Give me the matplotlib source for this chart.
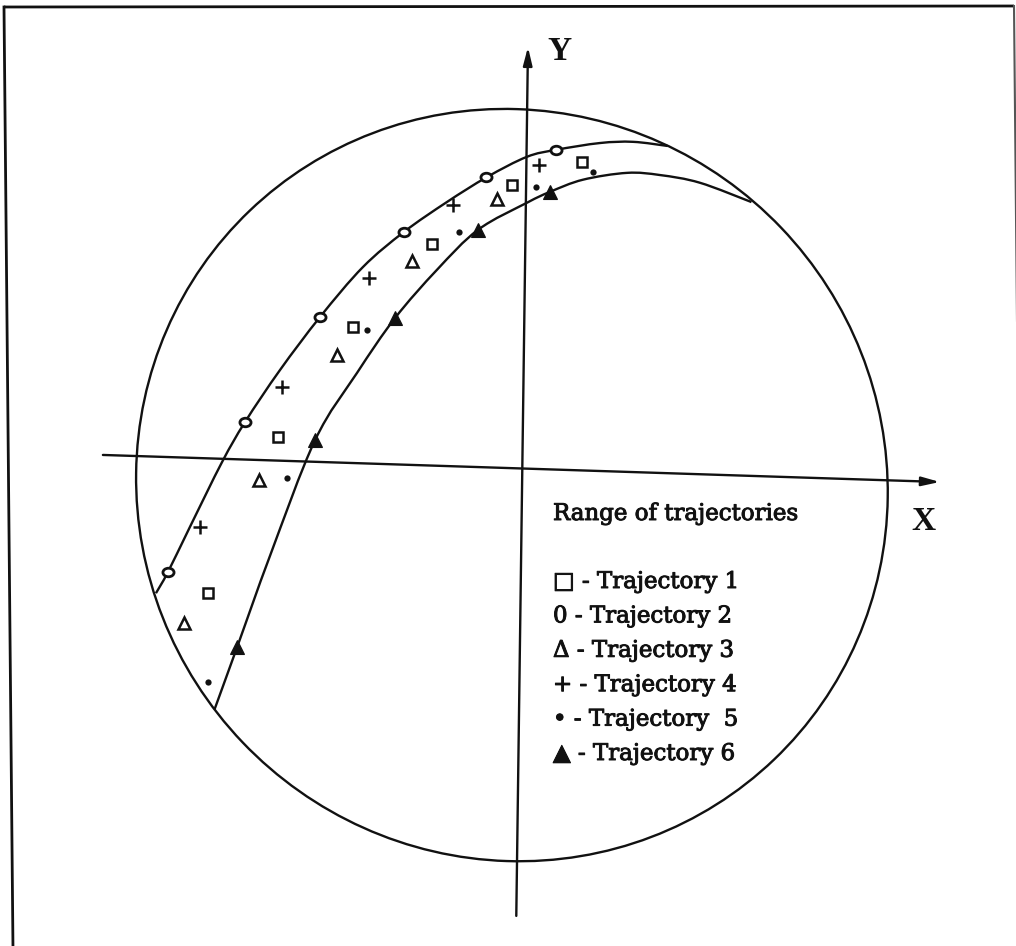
import matplotlib
matplotlib.use("Agg")
import matplotlib.pyplot as plt
import matplotlib.patheffects as pe
import numpy as np
from matplotlib.patches import Circle, FancyArrowPatch, PathPatch
from matplotlib.path import Path
from matplotlib.transforms import Affine2D

# trajectory samples, in units of the working-area radius,
# origin at the crossing of the X and Y axes
traj1_x = [-0.831, -0.651, -0.455, -0.248, -0.038, 0.148]
traj1_y = [-0.358, 0.063, 0.362, 0.589, 0.753, 0.820]
traj2_x = [-0.939, -0.739, -0.543, -0.323, -0.107, 0.078]
traj2_y = [-0.306, 0.100, 0.386, 0.619, 0.772, 0.850]
traj3_x = [-0.894, -0.700, -0.497, -0.301, -0.077]
traj3_y = [-0.440, -0.053, 0.286, 0.542, 0.715]
traj4_x = [-0.855, -0.642, -0.415, -0.194, 0.034]
traj4_y = [-0.183, 0.196, 0.493, 0.695, 0.809]
traj5_x = [-0.828, -0.625, -0.418, -0.177, 0.026, 0.177]
traj5_y = [-0.595, -0.045, 0.355, 0.624, 0.750, 0.795]
traj6_x = [-0.752, -0.552, -0.344, -0.126, 0.064]
traj6_y = [-0.499, 0.058, 0.389, 0.631, 0.738]

# upper and lower limits of the range of trajectories
upper_x = [-0.970, -0.939, -0.882, -0.799, -0.739, -0.648, -0.543, -0.431,
           -0.323, -0.210, -0.104, 0.001, 0.078, 0.195, 0.283, 0.375]
upper_y = [-0.363, -0.306, -0.184, -0.009, 0.100, 0.241, 0.386, 0.522,
           0.619, 0.702, 0.772, 0.829, 0.850, 0.872, 0.878, 0.870]
lower_x = [-0.810, -0.752, -0.668, -0.552, -0.443, -0.344, -0.234,
           -0.126, 0.003, 0.064, 0.151, 0.268, 0.356, 0.462, 0.600]
lower_y = [-0.667, -0.499, -0.254, 0.058, 0.240, 0.389, 0.521,
           0.631, 0.707, 0.738, 0.773, 0.795, 0.792, 0.775, 0.728]

# working area and axes
circle_centre = (-0.027, -0.045)
circle_radius = 1.0
x_axis = (-1.116, 1.111)
y_axis = (-1.19, 1.121)

legend_title = "Range of trajectories"
legend_lines = ["\u25a1 - Trajectory 1", "0 - Trajectory 2", "\u0394 - Trajectory 3",
                "+ - Trajectory 4", "\u2022 - Trajectory  5", "\u25b2 - Trajectory 6"]


def smooth(xs, ys):
    # cubic Bezier segments through the given points (Catmull-Rom tangents)
    p = np.column_stack([xs, ys])
    verts, codes = [p[0]], [Path.MOVETO]
    n = len(p)
    for i in range(n - 1):
        p0 = p[max(i - 1, 0)]
        p3 = p[min(i + 2, n - 1)]
        verts += [p[i] + (p[i + 1] - p0) / 6, p[i + 1] - (p3 - p[i]) / 6, p[i + 1]]
        codes += [Path.CURVE4] * 3
    return Path(verts, codes)


W, H = 1016, 946
fig = plt.figure(figsize=(W / 100, H / 100), dpi=100)
ax = fig.add_axes([0, 0, 1, 1])
ax.set_xlim(0, W)
ax.set_ylim(H, 0)
ax.axis("off")

# the drawing sits slightly crooked on the page
k = 376
rx = np.deg2rad(1.85)
ry = np.deg2rad(0.77)
page = Affine2D.from_values(k * np.cos(rx), k * np.sin(rx),
                            k * np.sin(ry), -k * np.cos(ry), 522.3, 468.5)
tr = page + ax.transData

lw = 1.7
ink = "#111111"

# page frame
ax.plot([4, 1014], [7, 6], color=ink, lw=2.0, solid_capstyle="butt")
ax.plot([4, 13], [7, 950], color=ink, lw=2.0)
ax.plot([1014, 1023], [6, 950], color="#555555", lw=1.5)

ax.add_patch(Circle(circle_centre, circle_radius, transform=tr,
                    fill=False, lw=lw, ec=ink))

arrow = "-|>,head_length=0.6,head_width=0.15"
ax.add_patch(FancyArrowPatch((x_axis[0], 0), (x_axis[1], 0), transform=tr,
                             arrowstyle=arrow, mutation_scale=18, lw=lw,
                             color=ink, shrinkA=0, shrinkB=0))
ax.add_patch(FancyArrowPatch((0, y_axis[0]), (0, y_axis[1]), transform=tr,
                             arrowstyle=arrow, mutation_scale=18, lw=lw,
                             color=ink, shrinkA=0, shrinkB=0))

ax.add_patch(PathPatch(smooth(upper_x, upper_y), transform=tr, fill=False, lw=lw, ec=ink))
ax.add_patch(PathPatch(smooth(lower_x, lower_y), transform=tr, fill=False, lw=lw, ec=ink))

circ = Path.unit_circle()
oval = Path(circ.vertices * [1.3, 1.0], circ.codes)

common = dict(ls="none", transform=tr, mec=ink)
ax.plot(traj1_x, traj1_y, marker="s", ms=7, mfc="none", mew=1.8, **common)
ax.plot(traj2_x, traj2_y, marker=oval, ms=8, mfc="white", mew=2.0, **common)
ax.plot(traj3_x, traj3_y, marker="^", ms=8, mfc="none", mew=1.8, **common)
ax.plot(traj4_x, traj4_y, marker="+", ms=10, mew=1.8, **common)
ax.plot(traj5_x, traj5_y, marker="o", ms=4.5, mfc=ink, mew=0, **common)
ax.plot(traj6_x, traj6_y, marker="^", ms=9.5, mfc=ink, mew=0.8, **common)

heavy = [pe.withStroke(linewidth=0.7, foreground=ink)]
ax.text(923, 521, "X", family="Liberation Serif", fontweight="bold", fontsize=24,
        ha="center", va="center", color=ink)
ax.text(559, 52, "Y", family="Liberation Serif", fontweight="bold", fontsize=24,
        ha="center", va="center", color=ink)

serif = ["DejaVu Serif", "DejaVu Sans"]
ax.text(553, 520, legend_title, family=serif, fontsize=16.5, va="baseline",
        color=ink, path_effects=heavy)
for i, line in enumerate(legend_lines):
    ax.text(553, 588 + i * 34.4, line, family=serif, fontsize=16.5,
            va="baseline", color=ink, path_effects=heavy)

fig.savefig("out.png", dpi=100, facecolor="white")
